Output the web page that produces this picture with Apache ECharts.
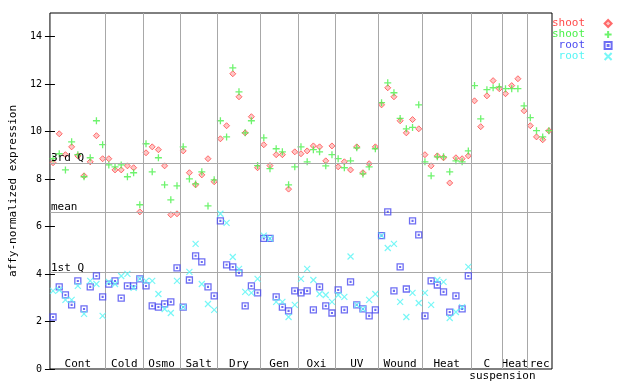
<!DOCTYPE html>
<html>
<head>
<meta charset="utf-8">
<script src="https://cdn.jsdelivr.net/npm/echarts@6/dist/echarts.min.js"></script>
<style>html,body{margin:0;padding:0;background:#fff;}#c{width:640px;height:384px;}</style>
</head>
<body>
<div id="c"></div>
<script>
const groupNames = ['Cont','Cold','Osmo','Salt','Dry','Gen','Oxi','UV','Wound','Heat','C','Heat','rec'];
const groupSizes = [9,6,6,6,7,6,6,7,7,8,5,4,4];
const subLabel = 'suspension';
const yTicks = [0,2,4,6,8,10,12,14];
const quartileNames = ['3rd Q','mean','1st Q'];
const quartileValues = [8.68, 6.61, 4.08];
const seriesNames = ['shoot','shoot','root','root'];

const shootA = [
  8.69, 9.91, 9.03, 9.36, 8.98, 8.14, 8.73, 9.83, 8.86,
  8.86, 8.39, 8.39, 8.56, 8.48, 6.62,
  9.11, 9.36, 9.24, 8.56, 6.50, 6.54,
  9.19, 8.27, 7.76, 8.18, 8.86, 7.89,
  9.70, 10.25, 12.44, 11.47, 9.95, 10.63, 8.48,
  9.45, 8.57, 9.03, 9.03, 7.58, 9.15,
  9.07, 9.19, 9.40, 9.36, 8.77, 9.40,
  8.52, 8.73, 8.39, 9.36, 8.27, 8.65, 9.36,
  11.13, 11.85, 11.47, 10.46, 9.95, 10.51, 10.12,
  9.03, 8.56, 8.98, 8.90, 7.84, 8.90, 8.86, 8.98,
  11.30, 10.21, 11.51, 12.15, 11.81,
  11.60, 11.94, 12.23, 10.88,
  10.25, 9.78, 9.66, 10.04
];
const shootB = [
  8.86, 9.07, 8.39, 9.57, 9.03, 8.10, 8.90, 10.46, 9.45,
  8.60, 8.52, 8.60, 8.10, 8.27, 6.92,
  9.49, 8.31, 8.90, 7.76, 7.13, 7.72,
  9.36, 8.01, 7.80, 8.31, 6.87, 7.97,
  10.46, 9.78, 12.69, 11.68, 9.95, 10.46, 8.57,
  9.74, 8.44, 9.28, 9.15, 7.76, 8.52,
  9.36, 8.73, 9.24, 9.15, 8.56, 9.03,
  8.86, 8.48, 8.77, 9.32, 8.22, 8.52, 9.28,
  11.22, 12.06, 11.64, 10.56, 10.12, 10.18, 11.13,
  8.73, 8.14, 8.94, 8.94, 8.31, 8.77, 8.73, 9.19,
  11.94, 10.54, 11.77, 11.85, 11.89,
  11.81, 11.81, 11.81, 11.09,
  10.59, 10.04, 9.78, 10.04
];
const rootA = [
  2.19, 3.46, 3.12, 2.70, 3.71, 2.53, 3.46, 3.92, 3.04,
  3.58, 3.71, 2.99, 3.50, 3.50, 3.80,
  3.50, 2.66, 2.61, 2.74, 2.83, 4.26,
  2.61, 3.75, 4.77, 4.51, 3.46, 3.08,
  6.24, 4.39, 4.30, 4.05, 2.66, 3.50, 3.21,
  5.50, 5.50, 3.04, 2.61, 2.45, 3.29,
  3.21, 3.29, 2.49, 3.46, 2.66, 2.36,
  3.33, 2.49, 3.67, 2.70, 2.53, 2.24, 2.49,
  5.62, 6.62, 3.29, 4.30, 3.37, 6.24, 5.65,
  2.24, 3.71, 3.54, 3.25, 2.40, 3.08, 2.53, 3.92,
  null, null, null, null, null,
  null, null, null, null,
  null, null, null, null
];
const rootB = [
  3.29, 3.33, 2.91, 2.91, 3.50, 2.32, 3.71, 3.58, 2.24,
  3.67, 3.58, 3.92, 4.01, 3.42, 3.80,
  3.71, 3.71, 3.16, 2.53, 2.36, 3.71,
  2.61, 4.09, 5.27, 3.58, 2.74, 2.49,
  6.54, 6.16, 4.72, 4.22, 3.25, 3.21, 3.80,
  5.62, 5.50, 2.83, 2.83, 2.19, 2.70,
  3.80, 4.22, 3.75, 3.16, 3.12, 2.83,
  3.12, 3.04, 4.74, 2.70, 2.53, 2.91, 3.16,
  5.62, 5.10, 5.27, 2.83, 2.19, 3.21, 2.78,
  3.21, 2.70, 3.75, 3.67, 2.15, 2.40, 2.61, 4.30,
  null, null, null, null, null,
  null, null, null, null,
  null, null, null, null
];

const colors = ['#ff4a4a', '#4af04a', '#4a4af0', '#55f5f5'];
const FONT = 'DejaVu Sans Mono';

// group boundaries and centers derived from sizes
const bounds = [];
const centers = [];
let acc = 0;
groupSizes.forEach(n => { centers.push(acc + n / 2); acc += n; bounds.push(acc); });
const total = acc;
const cIndex = groupNames.indexOf('C');
const subPos = bounds[cIndex];

function pts(arr) {
  const out = [];
  arr.forEach((v, i) => { if (v !== null) out.push([i + 0.5, v]); });
  return out;
}

const symbols = [
  'path://M3,0L6,3L3,6L0,3Z',
  'path://M0,3.5L7,3.5M3.5,0L3.5,7',
  'path://M0,0L6,0L6,6L0,6Z M2.6,2.6L3.4,2.6L3.4,3.4L2.6,3.4Z',
  'path://M0,0L6,6M6,0L0,6'
];
const styles = [
  {color: '#ffb8b8', borderColor: colors[0], borderWidth: 1},
  {color: 'transparent', borderColor: colors[1], borderWidth: 1.3},
  {color: 'transparent', borderColor: colors[2], borderWidth: 1.3},
  {color: 'transparent', borderColor: colors[3], borderWidth: 1.2}
];
const sizes = [6, 7, 6, 6];
const dataSets = [shootA, shootB, rootA, rootB];
const ids = ['s1', 's2', 'r1', 'r2'];
const legendText = {s1: 'shoot', s2: 'shoot', r1: ' root', r2: ' root'};

const markData = bounds.slice(0, -1).map(b => ({xAxis: b, label: {show: false}}));
quartileValues.forEach((q, i) => markData.push({
  yAxis: q, name: quartileNames[i],
  label: {show: true, position: 'insideStartTop', formatter: quartileNames[i],
          color: '#000', fontFamily: FONT, fontSize: 11, distance: [1, -1]}
}));

const series = [{
  type: 'scatter', name: 'lines', data: [], z: 1, silent: true,
  markLine: {silent: true, symbol: 'none', animation: false,
    lineStyle: {color: '#a8a8a8', width: 1, type: 'solid'},
    data: markData}
}];
dataSets.forEach((d, i) => series.push({
  type: 'scatter', name: ids[i], data: pts(d), symbol: symbols[i], symbolSize: sizes[i],
  symbolKeepAspect: true,
  itemStyle: styles[i], z: 3 + i, animation: false
}));

const chart = echarts.init(document.getElementById('c'), null, {renderer: 'canvas'});
chart.setOption({
  animation: false,
  backgroundColor: '#fff',
  grid: {left: 44, right: 88, top: 13, bottom: 15, show: true, borderColor: '#000', borderWidth: 1, backgroundColor: 'transparent'},
  legend: {
    orient: 'vertical', left: 552, top: 18, padding: 0, itemGap: 0,
    align: 'right', itemWidth: 36, itemHeight: 7, selectedMode: false,
    formatter: n => legendText[n],
    textStyle: {fontFamily: FONT, fontSize: 11, lineHeight: 11},
    data: ids.map((id, i) => ({name: id, textStyle: {color: colors[i]}}))
  },
  xAxis: [{
    type: 'value', min: 0, max: total, position: 'bottom',
    axisLine: {show: false}, axisTick: {show: false}, splitLine: {show: false},
    axisLabel: {inside: true, margin: -1, customValues: centers, color: '#000', fontFamily: FONT, fontSize: 11,
      formatter: v => { let best = 0; centers.forEach((c, i) => { if (Math.abs(c - v) < Math.abs(centers[best] - v)) best = i; }); return groupNames[best]; }}
  }, {
    type: 'value', min: 0, max: total, position: 'bottom',
    axisLine: {show: false}, axisTick: {show: false}, splitLine: {show: false},
    axisLabel: {margin: 2, customValues: [subPos], color: '#000', fontFamily: FONT, fontSize: 11, formatter: () => subLabel}
  }],
  yAxis: [{
    type: 'value', min: 0, max: 15, interval: 2, position: 'left',
    name: 'affy-normalized expression', nameLocation: 'middle', nameGap: 27,
    nameTextStyle: {fontFamily: FONT, fontSize: 11, color: '#000'},
    axisLine: {show: false}, splitLine: {show: false},
    axisTick: {show: true, inside: true, length: 5, customValues: yTicks, lineStyle: {color: '#000'}},
    axisLabel: {customValues: yTicks, color: '#000', fontFamily: FONT, fontSize: 10, margin: 8}
  }, {
    type: 'value', min: 0, max: 15, interval: 2, position: 'right',
    axisLine: {show: false}, splitLine: {show: false},
    axisTick: {show: true, inside: true, length: 5, customValues: yTicks, lineStyle: {color: '#000'}},
    axisLabel: {show: false}
  }],
  series: series
});
</script>
</body>
</html>
